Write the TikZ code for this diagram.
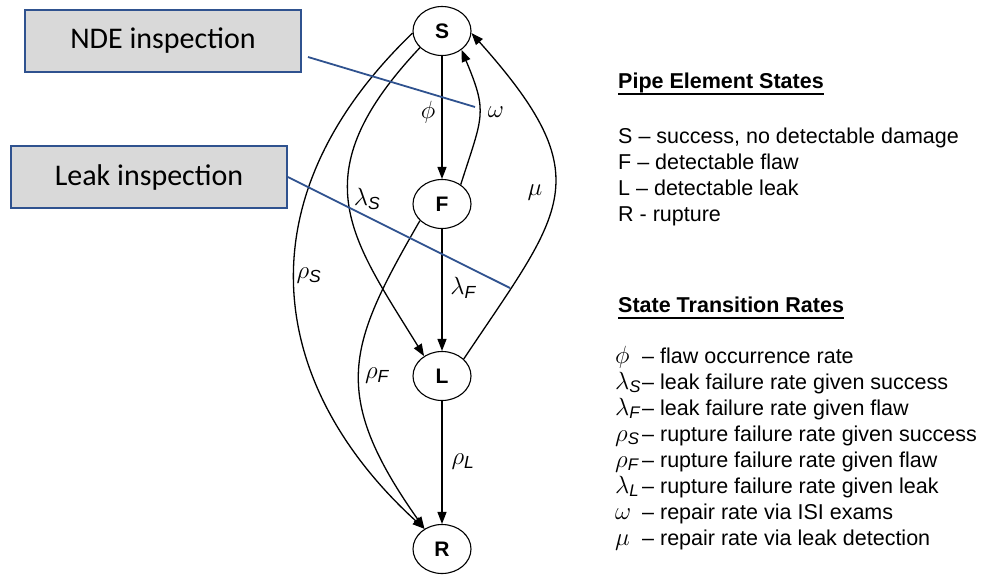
\documentclass[tikz,border=0pt]{standalone}
\usepackage{fontspec}
\usepackage{amsmath}
\setmainfont{Liberation Sans}
\newfontfamily\calibrifont{Carlito}
\usetikzlibrary{arrows.meta,shapes.geometric}
\definecolor{inspblue}{RGB}{47,82,143}
\definecolor{inspgray}{RGB}{217,217,217}
\newcommand{\sym}[1]{\makebox[27pt][l]{\fontsize{24}{26}\selectfont$#1$}}
\begin{document}
\begin{tikzpicture}[x=1pt,y=-1pt,
  state/.style={ellipse,draw,line width=1.1pt,minimum width=58pt,minimum height=49pt,inner sep=0pt,font=\fontsize{21}{24}\selectfont\bfseries},
  edge/.style={line width=1.3pt,-{Triangle[length=12pt,width=9pt]}},
  rate/.style={font=\fontsize{25}{28}\selectfont},
  insp/.style={draw=inspblue,fill=inspgray,line width=1.8pt,minimum width=276pt,minimum height=62pt,inner sep=0pt,font=\calibrifont\fontsize{30}{36}\selectfont},
  pointer/.style={draw=inspblue,line width=1.8pt},
  legend/.style={anchor=base west,inner sep=0pt,font=\fontsize{21.5}{26}\selectfont},
  uline/.style={line width=1.8pt}
  ]
\useasboundingbox (0,0) rectangle (982,581);
% states
\node[state] (S) at (442,31) {S};
\node[state] (F) at (442,204) {F};
\node[state] (L) at (442,376) {L};
\node[state] (R) at (442,549) {R};
% transitions
\draw[edge] (S.south) -- (F.north);
\draw[edge] (F.south) -- (L.north);
\draw[edge] (L.south) -- (R.north);
\draw[edge] (F.46) .. controls (483,115) and (488,113) .. (S.-44);
\draw[edge] (L.38) .. controls (563,210) and (602,179) .. (S.-4);
\draw[edge] (S.217) .. controls (300,175) and (350,236) .. (L.132);
\draw[edge] (S.184) .. controls (239,200) and (268,386) .. (R.131);
\draw[edge] (F.217) .. controls (349,344) and (328,392) .. (R.131);
% rate labels
\node[rate] (lphi) at (428,112) {$\phi$};
\node[rate] (lomega) at (496,112) {$\omega$};
\node[rate] (llamS) at (367,199) {$\lambda_{\textit{S}}$};
\node[rate] (lmu) at (535,193) {$\mu$};
\node[rate] (lrhoS) at (309,276) {$\rho_{\textit{S}}$};
\node[rate] (llamF) at (463,288) {$\lambda_{\textit{F}}$};
\node[rate] (lrhoF) at (377,376) {$\rho_{\textit{F}}$};
\node[rate] (lrhoL) at (463,462) {$\rho_{\textit{L}}$};
% inspection callouts
\node[insp] (nde) at (163,41) {NDE inspection};
\node[insp] (leak) at (149,177) {Leak inspection};
\coordinate (ndestart) at (308,57);
\coordinate (ndeend) at (475,107);
\coordinate (leakend) at (510,288);
\draw[pointer] (ndestart) -- (ndeend);
\draw[pointer] (leak.east) -- (leakend);
% legend: states
\node[legend] (h1) at (618,88) {\bfseries Pipe Element States};
\draw[uline] ([yshift=-6pt]h1.base west) -- ([yshift=-6pt]h1.base east);
\node[legend] (s1) at (618,143) {S – success, no detectable damage};
\node[legend] (s2) at (618,169) {F – detectable flaw};
\node[legend] (s3) at (618,195) {L – detectable leak};
\node[legend] (s4) at (618,221) {R - rupture};
% legend: rates
\node[legend] (h2) at (618,312) {\bfseries State Transition Rates};
\draw[uline] ([yshift=-6pt]h2.base west) -- ([yshift=-6pt]h2.base east);
\node[legend] (r1) at (615,363) {\sym{\phi}– flaw occurrence rate};
\node[legend] (r2) at (615,389) {\sym{\lambda_{\textit{S}}}– leak failure rate given success};
\node[legend] (r3) at (615,415) {\sym{\lambda_{\textit{F}}}– leak failure rate given flaw};
\node[legend] (r4) at (615,441) {\sym{\rho_{\textit{S}}}– rupture failure rate given success};
\node[legend] (r5) at (615,467) {\sym{\rho_{\textit{F}}}– rupture failure rate given flaw};
\node[legend] (r6) at (615,493) {\sym{\lambda_{\textit{L}}}– rupture failure rate given leak};
\node[legend] (r7) at (615,519) {\sym{\omega}– repair rate via ISI exams};
\node[legend] (r8) at (615,545) {\sym{\mu}– repair rate via leak detection};
\end{tikzpicture}
\end{document}
